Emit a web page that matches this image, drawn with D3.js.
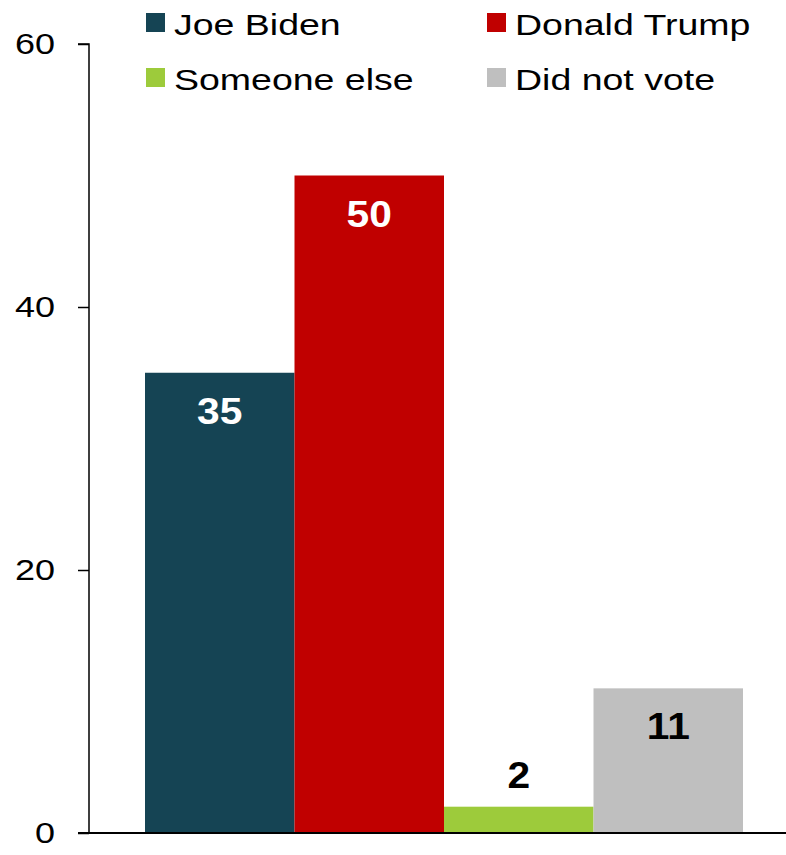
<!DOCTYPE html>
<html>
<head>
<meta charset="utf-8">
<script src="https://cdn.jsdelivr.net/npm/d3@7"></script>
<style>
  body { margin: 0; background: #fff; }
  svg { display: block; font-family: "Liberation Sans", Arial, sans-serif; }
</style>
</head>
<body>
<figure id="chart" style="margin:0"></figure>
<script>
const categories = ["Joe Biden", "Donald Trump", "Someone else", "Did not vote"];
const values = [35, 50, 2, 11];
const colors = ["#154454", "#C00000", "#9DCB3B", "#BFBFBF"];
const labelColors = ["#fff", "#fff", "#000", "#000"];
const yTicks = [0, 20, 40, 60];

const width = 786, height = 855;

const svg = d3.select("figure#chart")
  .append("svg")
  .attr("width", width)
  .attr("height", height);

const y = d3.scaleLinear().domain([0, 60]).range([833, 44]);
const x = d3.scaleBand().domain(categories).range([145, 743]).padding(0);

// y axis
const yAxis = d3.axisLeft(y).tickValues(yTicks).tickSize(11).tickFormat(d3.format("d"));
const gy = svg.append("g").attr("transform", "translate(89,0)").call(yAxis);
gy.select(".domain").attr("stroke", "#000").attr("stroke-width", 1.5).attr("d", "M-11," + y(60) + "H0V" + y(0));
gy.selectAll(".tick line").attr("stroke", "#000").attr("stroke-width", 1.5);
gy.selectAll(".tick text")
  .attr("x", 0)
  .attr("transform", "translate(-34,0) scale(1.2,1)")
  .attr("font-size", "30px").attr("fill", "#000")
  .attr("font-family", "Liberation Sans, Arial, sans-serif");

// bars
svg.append("g").selectAll("rect")
  .data(values)
  .enter()
  .append("rect")
  .attr("x", (d, i) => x(categories[i]))
  .attr("y", d => y(d))
  .attr("width", x.bandwidth())
  .attr("height", d => y(0) - y(d))
  .attr("fill", (d, i) => colors[i]);

// baseline
svg.append("line")
  .attr("x1", 78).attr("x2", width)
  .attr("y1", y(0)).attr("y2", y(0))
  .attr("stroke", "#000").attr("stroke-width", 2);

// value labels
svg.append("g").selectAll("text")
  .data(values)
  .enter()
  .append("text")
  .attr("transform", (d, i) => {
    const cx = x(categories[i]) + x.bandwidth() / 2;
    const cy = (y(0) - y(d) > 60) ? y(d) + 51 : y(d) - 19;
    return "translate(" + cx + "," + cy + ") scale(1.1,1)";
  })
  .attr("text-anchor", "middle")
  .attr("font-size", "37px")
  .attr("font-weight", "bold")
  .attr("fill", (d, i) => labelColors[i])
  .text(d => d);

// legend
const legendX = [146, 487];
const legendY = [13, 68];
const legend = svg.append("g").selectAll("g")
  .data(categories)
  .enter()
  .append("g")
  .attr("transform", (d, i) => "translate(" + legendX[i % 2] + "," + legendY[Math.floor(i / 2)] + ")");
legend.append("rect")
  .attr("width", 19).attr("height", 19)
  .attr("fill", (d, i) => colors[i]);
legend.append("text")
  .attr("transform", "translate(28,22) scale(1.25,1)")
  .attr("font-size", "30px")
  .attr("fill", "#000")
  .text(d => d);
</script>
</body>
</html>
